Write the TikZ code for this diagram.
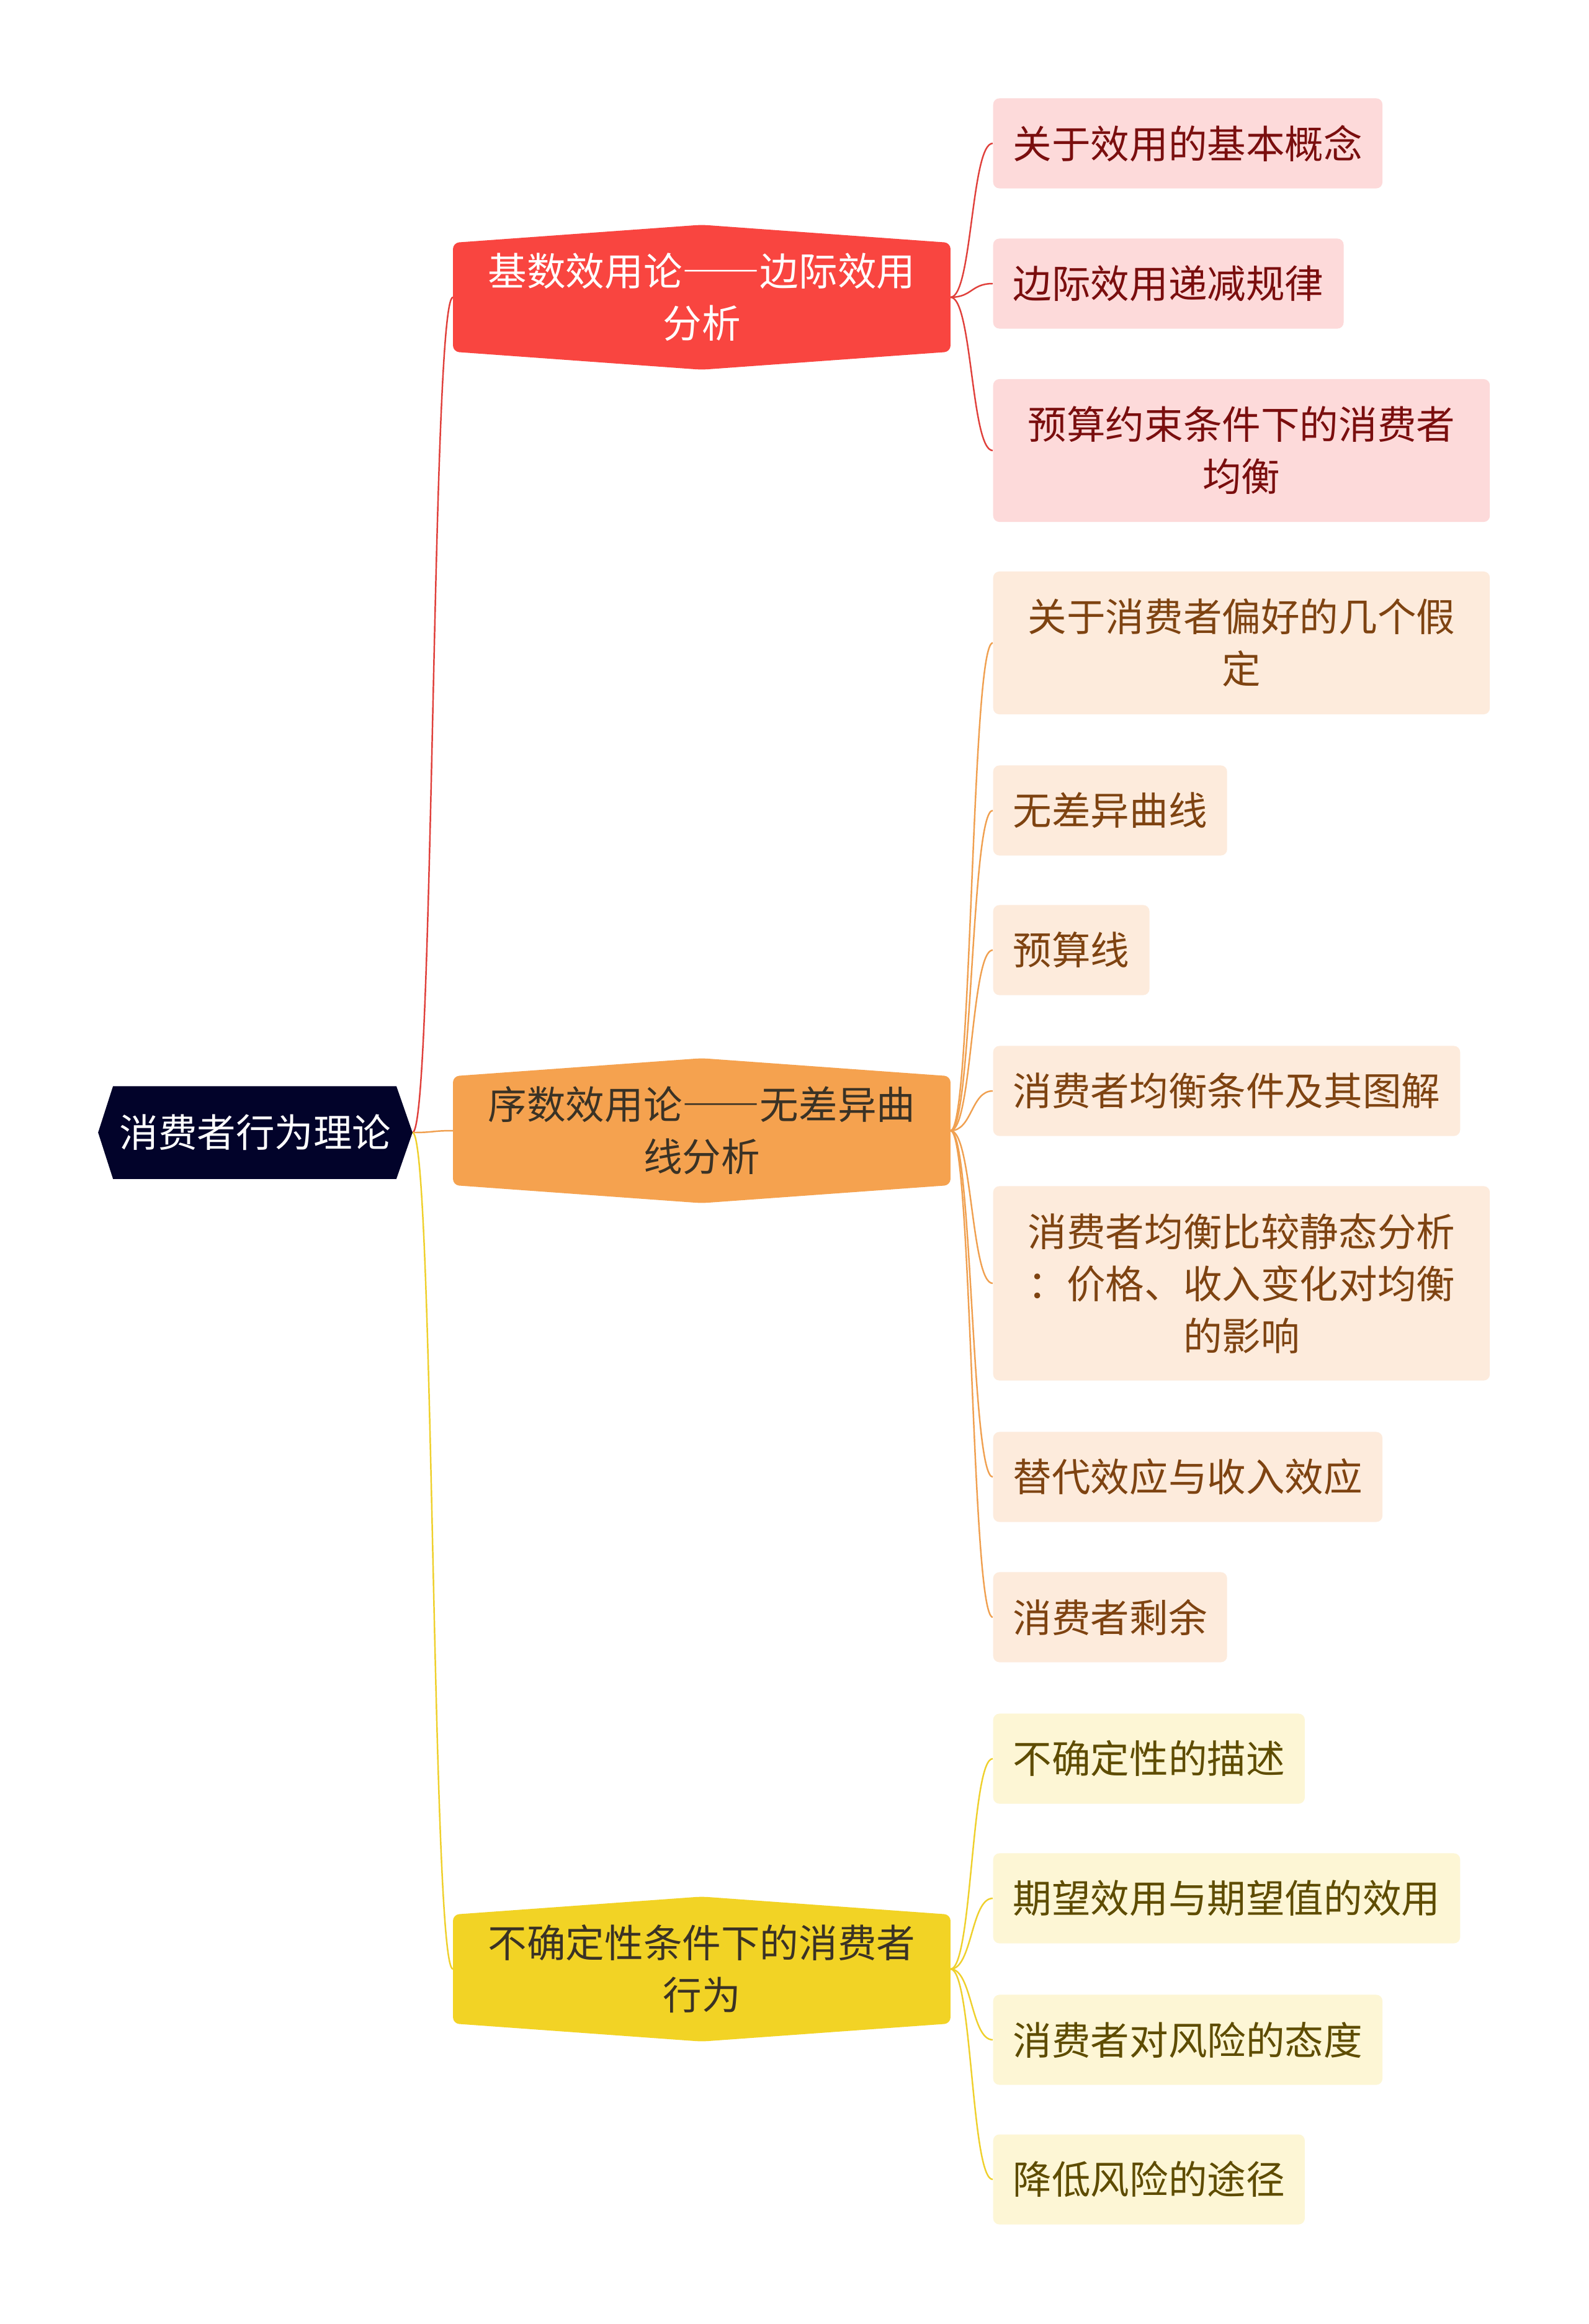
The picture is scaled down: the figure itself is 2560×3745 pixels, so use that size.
\documentclass[tikz,border=0pt]{standalone}
\usepackage{fontspec}
\newfontfamily\cjk[CharacterWidth=Full]{Noto Sans CJK SC}
\usepackage{xcolor}
\usepackage{tikz}
\usetikzlibrary{calc,backgrounds}

\definecolor{rootbg}{HTML}{02032A}
\definecolor{redbg}{HTML}{F94540}
\definecolor{orangebg}{HTML}{F5A24F}
\definecolor{yellowbg}{HTML}{F2D325}
\definecolor{darktxt}{HTML}{3A3225}
\definecolor{rleafbg}{HTML}{FDDADA}
\definecolor{rleaftxt}{HTML}{7A0E0E}
\definecolor{oleafbg}{HTML}{FDEBDC}
\definecolor{oleaftxt}{HTML}{7E4311}
\definecolor{yleafbg}{HTML}{FDF6D5}
\definecolor{yleaftxt}{HTML}{5E4C00}
\definecolor{redline}{HTML}{E0403B}
\definecolor{orangeline}{HTML}{F0A050}
\definecolor{yellowline}{HTML}{EFD02C}

%% branch shape: box with a flat peak on top and bottom
\newcommand{\hexfill}[2]{%
  \fill[#2,rounded corners=0.1cm]
    ($(#1.north west)+(0,29)$) -- (#1.north) -- ($(#1.north east)+(0,29)$)
    -- ($(#1.south east)+(0,-29)$) -- (#1.south) -- ($(#1.south west)+(0,-29)$) -- cycle;}

\begin{document}
\begin{tikzpicture}[x=0.01cm,y=-0.01cm,
  txt/.style   ={font=\cjk\fontsize{17.8pt}{23.9pt}\selectfont},
  root/.style  ={txt,text=white,minimum width=5.05cm,minimum height=1.48cm,inner sep=0pt},
  branch/.style={txt,minimum width=8cm,minimum height=2.32cm,align=center,inner sep=0pt},
  leaf/.style  ={txt,anchor=west,rounded corners=0.1cm,minimum height=1.45cm,
                 inner xsep=0.32cm,inner ysep=0pt,align=center},
  wide/.style  ={minimum width=8cm},
  rleaf/.style ={leaf,fill=rleafbg,text=rleaftxt},
  oleaf/.style ={leaf,fill=oleafbg,text=oleaftxt},
  yleaf/.style ={leaf,fill=yleafbg,text=yleaftxt},
  link/.style  ={line width=0.7pt}
]
\begin{scope}[on background layer]
  \fill[white] (0,0) rectangle (2560,3745);
\end{scope}
\useasboundingbox (0,0) rectangle (2560,3745);

%% Root and the three branches
\node[root]   (root) at (411.5,1825) {消费者行为理论};
\node[branch,text=white]   (card) at (1131,479)  {基数效用论——边际效用\\分析};
\node[branch,text=darktxt] (ord)  at (1131,1822) {序数效用论——无差异曲\\线分析};
\node[branch,text=darktxt] (unc)  at (1131,3173) {不确定性条件下的消费者\\行为};

%% Leaves of the first branch
\node[rleaf]                         (c1) at (1600,231) {关于效用的基本概念};
\node[rleaf]                         (c2) at (1600,457) {边际效用递减规律};
\node[rleaf,wide,minimum height=2.3cm] (c3) at (1600,726) {预算约束条件下的消费者\\均衡};

%% Leaves of the second branch
\node[oleaf,wide,minimum height=2.3cm]  (o1) at (1600,1036) {关于消费者偏好的几个假\\定};
\node[oleaf]                          (o2) at (1600,1306) {无差异曲线};
\node[oleaf]                          (o3) at (1600,1531) {预算线};
\node[oleaf]                          (o4) at (1600,1758) {消费者均衡条件及其图解};
\node[oleaf,wide,minimum height=3.13cm] (o5) at (1600,2068) {消费者均衡比较静态分析\\：价格、收入变化对均衡\\的影响};
\node[oleaf]                          (o6) at (1600,2380) {替代效应与收入效应};
\node[oleaf]                          (o7) at (1600,2606) {消费者剩余};

%% Leaves of the third branch
\node[yleaf] (u1) at (1600,2834) {不确定性的描述};
\node[yleaf] (u2) at (1600,3059) {期望效用与期望值的效用};
\node[yleaf] (u3) at (1600,3287) {消费者对风险的态度};
\node[yleaf] (u4) at (1600,3512) {降低风险的途径};

\begin{scope}[on background layer]
  %% connectors
  \draw[link,redline]    (root.east) .. controls +(35,0) and +(-35,0) .. (card.west);
  \draw[link,orangeline] (root.east) .. controls +(35,0) and +(-35,0) .. (ord.west);
  \draw[link,yellowline] (root.east) .. controls +(35,0) and +(-35,0) .. (unc.west);
  \foreach \n in {c1,c2,c3}
    \draw[link,redline] (card.east) .. controls +(35,0) and +(-35,0) .. (\n.west);
  \foreach \n in {o1,o2,o3,o4,o5,o6,o7}
    \draw[link,orangeline] (ord.east) .. controls +(35,0) and +(-35,0) .. (\n.west);
  \foreach \n in {u1,u2,u3,u4}
    \draw[link,yellowline] (unc.east) .. controls +(35,0) and +(-35,0) .. (\n.west);

  %% shapes behind the texts
  \fill[rootbg] (root.west) -- ($(root.north west)+(24,0)$) -- ($(root.north east)+(-26,0)$)
    -- (root.east) -- ($(root.south east)+(-26,0)$) -- ($(root.south west)+(24,0)$) -- cycle;
  \hexfill{card}{redbg}
  \hexfill{ord}{orangebg}
  \hexfill{unc}{yellowbg}
\end{scope}
\end{tikzpicture}
\end{document}
